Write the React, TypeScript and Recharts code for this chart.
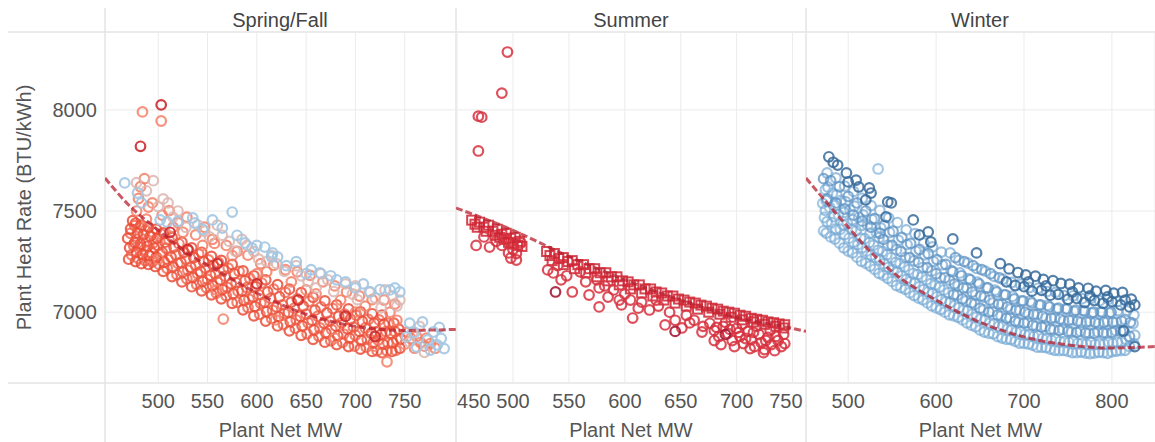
import React from "react";
import { ScatterChart, Scatter, XAxis, YAxis, CartesianGrid } from "recharts";

type Pt = [number, number];

const yTicks = [7000, 7500, 8000];
const springTicks = [500, 550, 600, 650, 700, 750];
const summerTicks = [450, 500, 550, 600, 650, 700, 750];
const winterTicks = [500, 600, 700, 800];

// Spring/Fall
const springRed: Pt[] = [
  [470, 7262], [471, 7318], [469, 7365], [472, 7412], [474, 7452],
  [477, 7250], [478, 7298], [476, 7344], [479, 7392], [477, 7440],
  [483, 7240], [484, 7286], [482, 7336], [485, 7384], [483, 7430],
  [490, 7236], [491, 7280], [489, 7326], [492, 7376], [490, 7420],
  [497, 7226], [498, 7272], [496, 7318], [499, 7366], [498, 7410],
  [505, 7202], [506, 7248], [504, 7296], [507, 7346], [505, 7392],
  [514, 7176], [515, 7224], [513, 7272], [516, 7322], [514, 7370],
  [524, 7150], [525, 7198], [523, 7246], [526, 7296], [524, 7346],
  [534, 7126], [535, 7172], [533, 7222], [536, 7270], [534, 7318],
  [544, 7106], [545, 7152], [543, 7200], [546, 7250], [544, 7296],
  [554, 7086], [555, 7132], [553, 7182], [556, 7230], [554, 7276],
  [564, 7066], [565, 7112], [563, 7160], [566, 7210], [564, 7256],
  [575, 7044], [576, 7092], [574, 7140], [577, 7190], [575, 7236],
  [586, 7012], [587, 7058], [585, 7106], [588, 7156], [586, 7204],
  [597, 6982], [598, 7028], [596, 7076], [599, 7126], [597, 7180],
  [609, 6956], [610, 7002], [608, 7050], [611, 7100], [609, 7160],
  [621, 6932], [622, 6978], [620, 7026], [623, 7076], [621, 7136],
  [633, 6908], [634, 6952], [632, 7000], [635, 7050], [633, 7114],
  [645, 6886], [646, 6932], [644, 6980], [647, 7030], [645, 7096],
  [657, 6866], [658, 6912], [656, 6960], [659, 7010], [657, 7074],
  [669, 6852], [670, 6898], [668, 6946], [671, 6996], [669, 7056],
  [681, 6840], [682, 6884], [680, 6932], [683, 6980], [681, 7036],
  [693, 6830], [694, 6872], [692, 6918], [695, 6966], [693, 7016],
  [705, 6818], [706, 6860], [704, 6906], [707, 6954], [705, 7002],
  [717, 6806], [718, 6848], [716, 6896], [719, 6946], [717, 6992],
  [727, 6800], [728, 6842], [726, 6890], [729, 6940], [727, 6986],
  [737, 6806], [738, 6848], [736, 6896], [739, 6946],
  [745, 6822], [746, 6868], [744, 6916],
];
const springRed2: Pt[] = [
  [473, 7284], [475, 7331], [472, 7390], [476, 7428],
  [480, 7266], [482, 7322], [479, 7361], [481, 7418],
  [487, 7255], [486, 7309], [488, 7349], [487, 7405],
  [494, 7249], [493, 7294], [495, 7343], [494, 7397],
  [501, 7236], [502, 7289], [500, 7330], [503, 7385],
  [509, 7217], [510, 7259], [508, 7316], [511, 7356],
  [519, 7185], [520, 7241], [518, 7283], [521, 7338],
  [529, 7165], [530, 7208], [528, 7263], [531, 7304],
  [539, 7137], [540, 7190], [538, 7232], [541, 7288],
  [549, 7121], [550, 7162], [548, 7218], [551, 7258],
  [559, 7095], [560, 7149], [558, 7190], [561, 7246],
  [569, 7081], [570, 7122], [568, 7178], [571, 7218],
  [580, 7049], [581, 7104], [579, 7146], [582, 7202],
  [591, 7023], [592, 7064], [590, 7122], [593, 7166],
  [603, 6989], [604, 7044], [602, 7086], [605, 7144],
  [615, 6969], [616, 7010], [614, 7068], [617, 7114],
  [627, 6939], [628, 6994], [626, 7036], [629, 7098],
  [639, 6921], [640, 6962], [638, 7020], [641, 7066],
  [651, 6893], [652, 6948], [650, 6990], [653, 7054],
  [663, 6881], [664, 6922], [662, 6980], [665, 7026],
  [675, 6859], [676, 6914], [674, 6956], [677, 7018],
  [687, 6851], [688, 6892], [686, 6948], [689, 6990],
  [699, 6833], [700, 6886], [698, 6926], [701, 6984],
  [711, 6827], [712, 6866], [710, 6922], [713, 6964],
  [722, 6809], [723, 6862], [721, 6902], [724, 6962],
  [732, 6809], [733, 6848], [731, 6904], [734, 6946],
  [741, 6811], [742, 6864], [740, 6904],
];
const springSalmon: Pt[] = [
  [480, 7562], [482, 7620], [486, 7660], [478, 7500], [494, 7540], [504, 7480],
  [511, 7502], [520, 7442], [529, 7470], [538, 7382], [547, 7420], [557, 7340],
  [569, 7330], [580, 7300], [591, 7282], [604, 7240], [617, 7232], [629, 7210],
  [641, 7200], [654, 7182], [667, 7150], [679, 7130], [691, 7100], [704, 7080],
  [717, 7062], [729, 7060], [740, 7040], [500, 7262], [559, 7110], [619, 6962],
  [679, 6872], [719, 6832], [750, 6842], [752, 6900], [760, 6822], [762, 6880],
  [770, 6832], [772, 6872], [781, 6822], [566, 6966], [732, 6755], [484, 7990],
  [503, 7945], [488, 7460], [515, 7420], [545, 7330], [600, 7190], [650, 7110],
  [700, 7000], [742, 6960], [490, 7520], [525, 7395], [555, 7360], [575, 7280],
  [610, 7200], [635, 7150], [660, 7090], [685, 7060], [710, 7030], [735, 7000],
  [756, 6870], [766, 6850], [776, 6845],
];
const springPink: Pt[] = [
  [488, 7600], [500, 7522], [515, 7470], [528, 7420], [540, 7432], [552, 7372],
  [565, 7380], [578, 7302], [590, 7330], [602, 7262], [615, 7280], [628, 7202],
  [640, 7230], [652, 7152], [665, 7190], [678, 7102], [690, 7140], [702, 7062],
  [714, 7100], [726, 7022], [738, 7080], [755, 6852], [770, 6802], [765, 6930],
  [495, 7650], [510, 7540], [560, 7430], [585, 7360], [620, 7240], [660, 7120],
  [700, 7130], [730, 7110], [745, 7060], [478, 7640], [505, 7560], [520, 7500],
  [547, 7400], [572, 7350], [597, 7300], [610, 7250], [645, 7180], [672, 7160],
  [697, 7090], [720, 7070], [742, 7030], [758, 6900],
];
const springBlue: Pt[] = [
  [466, 7639], [479, 7589], [483, 7540], [502, 7456], [509, 7446], [535, 7466],
  [537, 7441], [555, 7456], [575, 7495], [565, 7416], [588, 7342], [595, 7317],
  [608, 7322], [615, 7273], [621, 7273], [616, 7293], [664, 7194], [681, 7160],
  [715, 7100], [735, 7110], [755, 6946], [768, 6952], [779, 6902], [773, 6863],
  [783, 6838], [762, 6828], [776, 6813], [752, 6878], [640, 7250], [650, 7190],
  [690, 7150], [700, 7120], [725, 7112], [745, 7100], [790, 6820], [787, 6870],
  [760, 6900], [630, 7230], [520, 7450], [545, 7410], [580, 7380], [600, 7330],
  [655, 7210], [675, 7180], [708, 7140], [740, 7120], [785, 6925],
];
const springDark: Pt[] = [
  [503, 8025], [482, 7820], [512, 7395], [530, 7310], [560, 7240], [600, 7140],
  [642, 7060], [690, 6980], [720, 6880],
];
const springTrend: Pt[] = [
  [446, 7663], [470, 7530], [500, 7405], [530, 7290], [560, 7205], [600, 7095],
  [650, 6990], [700, 6930], [750, 6910], [802, 6915],
];

// Summer
const summerSquares: Pt[] = [
  [463, 7455], [466, 7435], [470, 7445], [474, 7420], [478, 7430], [482, 7400],
  [486, 7410], [490, 7385], [494, 7390], [498, 7365], [502, 7370], [506, 7350],
  [504, 7330], [496, 7345], [488, 7370], [468, 7420], [476, 7400], [484, 7380],
  [492, 7360], [500, 7340], [508, 7325],
  [530, 7300], [533, 7280], [537, 7290], [541, 7265], [545, 7270], [549, 7250],
  [553, 7255], [558, 7235], [563, 7235], [568, 7215], [573, 7215], [578, 7195],
  [583, 7195], [588, 7175], [593, 7175], [598, 7155], [603, 7150], [608, 7135],
  [613, 7135], [618, 7115], [623, 7115], [628, 7100], [633, 7095], [638, 7080],
  [643, 7080], [648, 7065], [653, 7060], [658, 7050], [663, 7045], [668, 7035],
  [673, 7030], [678, 7020], [683, 7015], [688, 7005], [693, 7000], [698, 6995],
  [703, 6985], [708, 6980], [713, 6970], [718, 6965], [723, 6960], [728, 6952],
  [733, 6948], [738, 6942], [743, 6938],
  [535, 7255], [545, 7235], [555, 7215], [565, 7195], [575, 7175], [585, 7155],
  [595, 7135], [605, 7115], [615, 7095], [625, 7080], [635, 7060], [645, 7045],
  [655, 7030], [665, 7015], [675, 7000], [685, 6990], [695, 6975], [705, 6962],
  [715, 6952], [725, 6940], [735, 6930], [742, 6922],
];
const summerCircles: Pt[] = [
  [495, 8286], [490, 8083], [469, 7969], [472, 7964], [469, 7797],
  [467, 7330], [479, 7322], [496, 7293], [498, 7268], [503, 7258], [507, 7342],
  [474, 7372], [494, 7357], [485, 7350], [490, 7330], [500, 7310], [503, 7290],
  [531, 7209], [536, 7194], [543, 7160], [553, 7100], [568, 7085], [577, 7026],
  [585, 7075], [597, 7036], [577, 7120], [540, 7230], [548, 7180], [560, 7200],
  [565, 7150], [575, 7160], [582, 7130], [590, 7110], [600, 7090], [605, 7060],
  [607, 6971], [622, 7011], [636, 6937], [651, 6922], [658, 6947], [669, 6902],
  [615, 7050], [628, 7060], [640, 7000], [645, 6960], [655, 6985], [662, 6960],
  [676, 6945], [680, 6910], [684, 6880], [688, 6930], [692, 6895], [696, 6860],
  [700, 6920], [703, 6880], [706, 6845], [710, 6905], [713, 6865], [716, 6830],
  [720, 6890], [722, 6850], [725, 6815], [728, 6875], [731, 6840], [734, 6810],
  [737, 6860], [740, 6830], [743, 6845], [690, 6950], [705, 6940], [718, 6930],
  [730, 6910], [742, 6890], [698, 6830], [712, 6820], [724, 6800], [680, 6860],
  [686, 6840], [694, 6915], [708, 6870], [715, 6900], [726, 6860], [735, 6880],
  [702, 6900], [682, 6925], [670, 6930], [630, 7030], [612, 7020], [595, 7060],
];
const summerDark: Pt[] = [[538, 7100], [645, 6905], [690, 6890]];
const summerTrend: Pt[] = [
  [449, 7515], [500, 7405], [550, 7275], [600, 7160], [650, 7060], [700, 6975],
  [750, 6920], [762, 6905],
];

// Winter
const winterLight: Pt[] = [
  [472, 7402], [473, 7468], [471, 7538], [474, 7606],
  [480, 7372], [481, 7442], [479, 7518], [482, 7588],
  [490, 7342], [491, 7410], [489, 7482], [492, 7552],
  [500, 7302], [501, 7366], [499, 7438], [502, 7506],
  [510, 7272], [511, 7334], [509, 7402], [512, 7468],
  [520, 7242], [521, 7302], [519, 7364], [522, 7430],
  [530, 7212], [531, 7270], [529, 7332], [532, 7394],
  [540, 7182], [541, 7240], [539, 7300],
  [550, 7152], [551, 7210], [549, 7270],
  [560, 7122], [561, 7180], [559, 7240],
  [570, 7096], [571, 7152], [569, 7210],
  [580, 7070], [581, 7126], [579, 7186],
  [590, 7046], [591, 7100], [589, 7160],
  [600, 7022], [601, 7076], [599, 7134],
  [610, 7000], [611, 7052], [609, 7110],
  [620, 6982], [621, 7032], [630, 6962], [631, 7010],
  [640, 6936], [641, 6990], [650, 6912], [651, 6966],
  [660, 6896], [661, 6946], [670, 6880], [671, 6930],
  [680, 6866], [681, 6916], [690, 6856], [691, 6902],
  [700, 6846], [701, 6890], [710, 6836], [711, 6880],
  [720, 6826], [721, 6870], [730, 6818], [731, 6862],
  [740, 6810], [741, 6856], [750, 6806], [751, 6850],
  [760, 6800], [761, 6846], [770, 6798], [771, 6842],
  [780, 6798], [781, 6840], [790, 6800], [791, 6842],
  [800, 6804], [801, 6846], [810, 6810], [811, 6852],
  [820, 6830], [534, 7708],
];
const winterMid: Pt[] = [
  [472, 7660], [480, 7650], [490, 7620], [500, 7572], [510, 7540], [520, 7500], [530, 7462],
  [540, 7360], [541, 7430], [550, 7330], [551, 7400], [560, 7300], [561, 7370],
  [570, 7270], [571, 7340], [580, 7246], [581, 7310], [590, 7220], [591, 7290],
  [600, 7190], [601, 7260], [610, 7170], [611, 7236],
  [620, 7086], [621, 7140], [619, 7200], [622, 7270],
  [630, 7066], [631, 7120], [629, 7180], [632, 7250],
  [640, 7046], [641, 7100], [639, 7160], [642, 7230],
  [650, 7020], [651, 7080], [649, 7140], [652, 7210],
  [660, 7000], [661, 7060], [659, 7120], [662, 7190],
  [670, 6986], [671, 7040], [669, 7100], [672, 7170],
  [680, 6970], [681, 7026], [679, 7086],
  [690, 6956], [691, 7010], [689, 7066],
  [700, 6946], [701, 7000], [699, 7056],
  [710, 6936], [711, 6990], [709, 7046],
  [720, 6926], [721, 6980], [719, 7036],
  [730, 6916], [731, 6970], [729, 7026],
  [740, 6910], [741, 6966], [739, 7020],
  [750, 6906], [751, 6960], [749, 7016],
  [760, 6900], [761, 6956], [759, 7010],
  [770, 6898], [771, 6952], [769, 7006],
  [780, 6896], [781, 6950], [779, 7000],
  [790, 6898], [791, 6950], [789, 7000],
  [800, 6900], [801, 6950], [799, 7000],
  [810, 6906], [811, 6956], [820, 6880], [821, 6950],
  [476, 7560], [486, 7540], [496, 7510], [506, 7480], [516, 7450], [526, 7420], [536, 7390],
];
const winterFill: Pt[] = [
  [475, 7391], [476, 7447], [474, 7503], [475, 7552], [477, 7618], [476, 7688],
  [485, 7362], [486, 7412], [484, 7472], [485, 7528], [487, 7581], [486, 7664],
  [495, 7318], [496, 7384], [494, 7432], [495, 7493], [497, 7546], [496, 7623],
  [505, 7293], [506, 7347], [504, 7408], [505, 7457], [507, 7524], [506, 7597],
  [515, 7252], [516, 7318], [514, 7366], [515, 7428], [517, 7481], [516, 7563],
  [525, 7228], [526, 7282], [524, 7344], [525, 7391], [527, 7458], [526, 7527],
  [535, 7192], [536, 7258], [534, 7306], [535, 7368], [537, 7417], [536, 7503],
  [545, 7168], [546, 7222], [544, 7284], [545, 7331], [547, 7394], [546, 7466],
  [555, 7132], [556, 7198], [554, 7246], [555, 7309], [557, 7356], [556, 7443],
  [565, 7113], [566, 7162], [564, 7224], [565, 7271], [567, 7334], [566, 7407],
  [575, 7082], [576, 7143], [574, 7191], [575, 7254], [577, 7301], [576, 7388],
  [585, 7061], [586, 7112], [584, 7174], [585, 7221], [587, 7284], [586, 7342],
  [595, 7031], [596, 7093], [594, 7141], [595, 7204], [597, 7251], [596, 7323],
  [605, 7013], [606, 7062], [604, 7124], [605, 7171], [607, 7234], [606, 7297],
  [615, 6987], [616, 7048], [614, 7096], [615, 7159], [617, 7206], [616, 7293],
  [625, 6975], [626, 7022], [624, 7084], [625, 7131], [627, 7194], [626, 7257],
  [635, 6947], [636, 7008], [634, 7056], [635, 7119], [637, 7166], [636, 7243],
  [645, 6928], [646, 6977], [644, 7039], [645, 7086], [647, 7149], [646, 7217],
  [655, 6902], [656, 6963], [654, 7011], [655, 7074], [657, 7121], [656, 7203],
  [665, 6893], [666, 6942], [664, 7004], [665, 7046], [667, 7109], [666, 7177],
  [675, 6872], [676, 6933], [674, 6981], [675, 7039], [677, 7086], [676, 7163],
  [685, 6865], [686, 6912], [684, 6972], [685, 7016], [687, 7079], [686, 7147],
  [695, 6847], [696, 6905], [694, 6951], [695, 7009], [697, 7056], [696, 7138],
  [705, 6843], [706, 6889], [704, 6949], [705, 6991], [707, 7054], [706, 7122],
  [715, 6827], [716, 6885], [714, 6931], [715, 6989], [717, 7036], [716, 7118],
  [725, 6825], [726, 6869], [724, 6929], [725, 6971], [727, 7034], [726, 7102],
  [735, 6812], [736, 6868], [734, 6914], [735, 6972], [737, 7016], [736, 7098],
  [745, 6811], [746, 6855], [744, 6916], [745, 6958], [747, 7016], [746, 7082],
  [755, 6800], [756, 6858], [754, 6902], [755, 6962], [757, 7004], [756, 7081],
  [765, 6803], [766, 6847], [764, 6906], [765, 6950], [767, 7008], [766, 7067],
  [775, 6795], [776, 6851], [774, 6896], [775, 6954], [777, 6996], [776, 7068],
  [785, 6802], [786, 6845], [784, 6902], [785, 6944], [787, 7002], [786, 7057],
  [795, 6797], [796, 6853], [794, 6896], [795, 6954], [797, 6996], [796, 7063],
  [805, 6808], [806, 6852], [804, 6909], [805, 6951], [807, 7008], [806, 7052],
  [815, 6812], [816, 6866], [814, 6906], [815, 6964], [817, 7006],
  [825, 6843], [826, 6886], [824, 6944], [825, 6986],
];
const winterDark: Pt[] = [
  [478, 7768], [483, 7741], [488, 7727], [498, 7688], [509, 7653], [500, 7644],
  [512, 7619], [524, 7614], [526, 7589], [520, 7555], [545, 7545], [549, 7540],
  [543, 7471], [574, 7456], [581, 7382], [591, 7397], [594, 7347], [619, 7362],
  [646, 7293], [673, 7240],
  [680, 7150], [683, 7214], [690, 7132], [693, 7196], [700, 7126], [702, 7184],
  [709, 7104], [713, 7178], [720, 7108], [722, 7162], [730, 7084], [733, 7156],
  [739, 7088], [742, 7142], [750, 7064], [752, 7138], [760, 7068], [762, 7120],
  [769, 7048], [773, 7118], [780, 7058], [782, 7104], [790, 7044], [793, 7108],
  [800, 7052], [802, 7094], [810, 7036], [812, 7098], [820, 7026], [822, 7064],
  [826, 7036], [813, 6907], [826, 6830], [755, 7100], [775, 7080], [795, 7075],
  [815, 7060], [725, 7130], [705, 7150],
];
const winterTrend: Pt[] = [
  [452, 7663], [470, 7570], [500, 7420], [525, 7300], [550, 7200], [600, 7060],
  [650, 6950], [700, 6878], [750, 6838], [800, 6823], [849, 6830],
];

const toXY = (pts: Pt[]) => pts.map(([x, y]) => ({ x, y }));

const ring = (color: string, opacity: number) => (p: any) => (
  <circle cx={p.cx} cy={p.cy} r={4.8} fill="none" stroke={color} strokeWidth={2.2} strokeOpacity={opacity} />
);
const box = (color: string) => (p: any) => (
  <rect x={p.cx - 4.5} y={p.cy - 4.5} width={9} height={9} fill="none" stroke={color} strokeWidth={2} strokeOpacity={0.85} />
);

type Series = { name: string; data: Pt[]; shape: (p: any) => React.ReactElement };

const textColor = "#555";
const fontSize = 20;

// Tableau keeps edge labels inside the pane
function xTick(fitEdges: boolean, last: number) {
  return (p: any) => {
    let anchor = "middle";
    let x = p.x;
    if (fitEdges && p.index === 0) anchor = "start";
    if (fitEdges && p.payload.value === last) {
      anchor = "end";
      x = p.x + 10;
    }
    return (
      <text x={x} y={p.y} dy="0.71em" textAnchor={anchor} fill={textColor} fontSize={fontSize}>
        {p.payload.value}
      </text>
    );
  };
}

function Panel(props: {
  left: number;
  width: number;
  domain: [number, number];
  ticks: number[];
  showY?: boolean;
  fitEdges?: boolean;
  series: Series[];
  trend: Pt[];
}) {
  const { left, width, domain, ticks, showY, fitEdges, series, trend } = props;
  return (
    <div style={{ position: "absolute", left, top: 0 }}>
      <ScatterChart width={width} height={442} margin={{ top: 32, right: 0, bottom: 0, left: 0 }}>
        <CartesianGrid stroke="#ebebeb" />
        <XAxis
          type="number"
          dataKey="x"
          domain={domain}
          ticks={ticks}
          interval={0}
          allowDataOverflow
          height={59}
          axisLine={false}
          tickLine={false}
          tickMargin={5}
          tick={xTick(!!fitEdges, ticks[ticks.length - 1])}
          label={{ value: "Plant Net MW", position: "insideBottom", offset: 5, fill: textColor, fontSize }}
        />
        <YAxis
          type="number"
          dataKey="y"
          domain={[6650, 8385]}
          ticks={yTicks}
          interval={0}
          allowDataOverflow
          hide={!showY}
          width={105}
          axisLine={false}
          tickLine={false}
          tick={{ fill: textColor, fontSize }}
          label={{
            value: "Plant Heat Rate (BTU/kWh)",
            angle: -90,
            position: "insideLeft",
            offset: 24,
            fill: textColor,
            fontSize,
            style: { textAnchor: "middle" },
          }}
        />
        {series.map((s) => (
          <Scatter key={s.name} name={s.name} data={toXY(s.data)} shape={s.shape} isAnimationActive={false} />
        ))}
        <Scatter
          name="trend"
          data={toXY(trend)}
          shape={() => <g />}
          line={{ stroke: "#b8202f", strokeWidth: 3, strokeOpacity: 0.75, strokeDasharray: "7 3" }}
          lineJointType="monotoneX"
          isAnimationActive={false}
        />
      </ScatterChart>
    </div>
  );
}

export default function App() {
  const frame = "#d6d6d6";
  return (
    <div
      style={{
        position: "absolute",
        left: 0,
        top: 0,
        width: 1155,
        height: 442,
        background: "#fff",
        fontFamily: "'Liberation Sans', Arial, sans-serif",
      }}
    >
      <svg width={1155} height={442} style={{ position: "absolute", left: 0, top: 0 }}>
        <line x1={8} y1={32} x2={1155} y2={32} stroke={frame} />
        <line x1={8} y1={383} x2={1155} y2={383} stroke={frame} />
        <line x1={105} y1={8} x2={105} y2={442} stroke={frame} />
        <line x1={456} y1={8} x2={456} y2={442} stroke={frame} />
        <line x1={806} y1={8} x2={806} y2={442} stroke={frame} />
        <g fill="#444" fontSize={20} textAnchor="middle">
          <text x={280} y={27}>Spring/Fall</text>
          <text x={631} y={27}>Summer</text>
          <text x={980} y={27}>Winter</text>
        </g>
      </svg>
      <Panel
        left={0}
        width={456}
        domain={[446, 802]}
        ticks={springTicks}
        showY
        series={[
          { name: "red", data: springRed, shape: ring("#e9432d", 0.8) },
          { name: "red2", data: springRed2, shape: ring("#ef5a42", 0.75) },
          { name: "salmon", data: springSalmon, shape: ring("#f47f66", 0.85) },
          { name: "pink", data: springPink, shape: ring("#dcb6b0", 0.85) },
          { name: "blue", data: springBlue, shape: ring("#a3c7e2", 0.9) },
          { name: "dark", data: springDark, shape: ring("#cc2a2e", 0.9) },
        ]}
        trend={springTrend}
      />
      <Panel
        left={456}
        width={350}
        domain={[449, 762]}
        ticks={summerTicks}
        fitEdges
        series={[
          { name: "squares", data: summerSquares, shape: box("#cf2634") },
          { name: "circles", data: summerCircles, shape: ring("#d7313e", 0.85) },
          { name: "dark", data: summerDark, shape: ring("#a51d3a", 0.9) },
        ]}
        trend={summerTrend}
      />
      <Panel
        left={806}
        width={349}
        domain={[452, 849]}
        ticks={winterTicks}
        series={[
          { name: "light", data: winterLight, shape: ring("#8dbadf", 0.8) },
          { name: "fill", data: winterFill, shape: ring("#74a6d3", 0.7) },
          { name: "mid", data: winterMid, shape: ring("#5f93c3", 0.75) },
          { name: "dark", data: winterDark, shape: ring("#376b9b", 0.85) },
        ]}
        trend={winterTrend}
      />
    </div>
  );
}
